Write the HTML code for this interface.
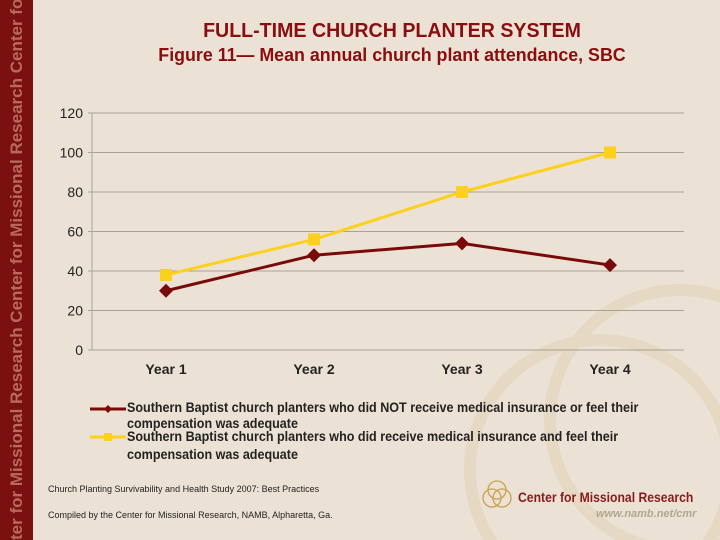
<!DOCTYPE html>
<html><head><meta charset="utf-8"><style>
html,body{margin:0;width:720px;height:540px;overflow:hidden;background:#ebe2d5;font-family:"Liberation Sans",sans-serif;}
#wrap{position:relative;width:720px;height:540px;overflow:hidden;}
.t{position:absolute;white-space:nowrap;}
.lg{position:absolute;white-space:nowrap;font-size:13.5px;font-weight:bold;color:#222;transform-origin:0 0;transform:scaleX(0.93);}
</style></head><body>
<div id="wrap">
<svg width="720" height="540" style="position:absolute;left:0;top:0">
<circle cx="600" cy="470" r="130" fill="none" stroke="#e5d9c4" stroke-width="12"/>
<circle cx="680" cy="420" r="130" fill="none" stroke="#e5d9c4" stroke-width="12"/>
<rect x="0" y="0" width="33" height="540" fill="#7a1010"/>
<text transform="translate(22,540) rotate(-90)" font-family="Liberation Sans" font-weight="bold" font-size="17" fill="#b86a5e">ter for Missional Research Center for Missional Research Center for Missional Re</text>
</svg>
<div class="t" style="left:392px;top:20px;font-size:20px;font-weight:bold;color:#8b0d0d;transform:translateX(-50%) scaleX(0.98);">FULL-TIME CHURCH PLANTER SYSTEM</div>
<div class="t" style="left:392px;top:45px;font-size:18px;font-weight:bold;color:#8b0d0d;transform:translateX(-50%) scaleX(0.99);">Figure 11— Mean annual church plant attendance, SBC</div>
<svg id="chart" width="720" height="540" style="position:absolute;left:0;top:0"></svg>
<div class="lg" style="left:127px;top:400px">Southern Baptist church planters who did NOT receive medical insurance or feel their</div>
<div class="lg" style="left:127px;top:416px">compensation was adequate</div>
<div class="lg" style="left:127px;top:429px">Southern Baptist church planters who did receive medical insurance and feel their</div>
<div class="lg" style="left:127px;top:447px">compensation was adequate</div>
<div class="t" style="left:48px;top:484px;font-size:9px;color:#222">Church Planting Survivability and Health Study 2007: Best Practices</div>
<div class="t" style="left:48px;top:510px;font-size:9px;color:#222">Compiled by the Center for Missional Research, NAMB, Alpharetta, Ga.</div>
<svg width="40" height="32" style="position:absolute;left:481px;top:478px"><g fill="none" stroke="#c9a24a" stroke-width="1.3"><circle cx="16" cy="12" r="9"/><circle cx="11" cy="20" r="9"/><circle cx="21" cy="20" r="9"/></g></svg>
<div class="t" style="left:518px;top:489px;font-size:14px;font-weight:bold;color:#8b1a1a;transform-origin:0 0;transform:scaleX(0.87)">Center for Missional Research</div>
<div class="t" style="left:596px;top:508px;font-size:11px;font-weight:bold;font-style:italic;color:#b3a58f">www.namb.net/cmr</div>
</div>
<script>
const categories=["Year 1","Year 2","Year 3","Year 4"];
const notInsured=[30,48,54,43];
const insured=[38,56,80,100];
const yTicks=[0,20,40,60,80,100,120];
const svg=document.getElementById('chart');
const NS='http://www.w3.org/2000/svg';
const x0=92,x1=684,y0=350,y1=113;
function xs(i){return x0+(x1-x0)/categories.length*(i+0.5);}
function ys(v){return y0-(v-0)/(120-0)*(y0-y1);}
function mk(t,a){const e=document.createElementNS(NS,t);for(const k in a)e.setAttribute(k,a[k]);svg.appendChild(e);return e;}
yTicks.forEach(v=>{
 const l=mk('line',{x1:x0-4,x2:x1,y1:ys(v),y2:ys(v),stroke:'#a9a196','stroke-width':1});
 
 
 const t=mk('text',{x:x0-9,y:ys(v)+5,'text-anchor':'end','font-size':14,'font-family':'Liberation Sans',fill:'#222'});
 t.textContent=v;
 
 
});
const ax=mk('line',{x1:x0,x2:x0,y1:y1,y2:y0,stroke:'#a9a196'});


categories.forEach((c,i)=>{
 const t=mk('text',{x:xs(i),y:374,'text-anchor':'middle','font-size':14,'font-weight':'bold','font-family':'Liberation Sans',fill:'#222'});
 t.textContent=c;
 
 
});
function series(vals,color,shape,name){
 const p=mk('polyline',{points:vals.map((v,i)=>xs(i)+','+ys(v)).join(' '),fill:'none',stroke:color,'stroke-width':3});
 
 
 vals.forEach((v,i)=>{
  let m;
  if(shape==='d'){const x=xs(i),y=ys(v);m=mk('polygon',{points:`${x},${y-7} ${x+7},${y} ${x},${y+7} ${x-7},${y}`,fill:color});}
  else m=mk('rect',{x:xs(i)-6,y:ys(v)-6,width:12,height:12,fill:color});
  
  
 });
}
series(insured,'#fcd01c','s','insured');
series(notInsured,'#7a0a0a','d','not-insured');
const l1=mk('line',{x1:90,x2:126,y1:409,y2:409,stroke:'#7a0a0a','stroke-width':3});


const d1=mk('polygon',{points:'108,405 112,409 108,413 104,409',fill:'#7a0a0a'});


const l2=mk('line',{x1:90,x2:126,y1:437,y2:437,stroke:'#fcd01c','stroke-width':3});


const s2=mk('rect',{x:104,y:433,width:8,height:8,fill:'#fcd01c'});


</script>
</body></html>
